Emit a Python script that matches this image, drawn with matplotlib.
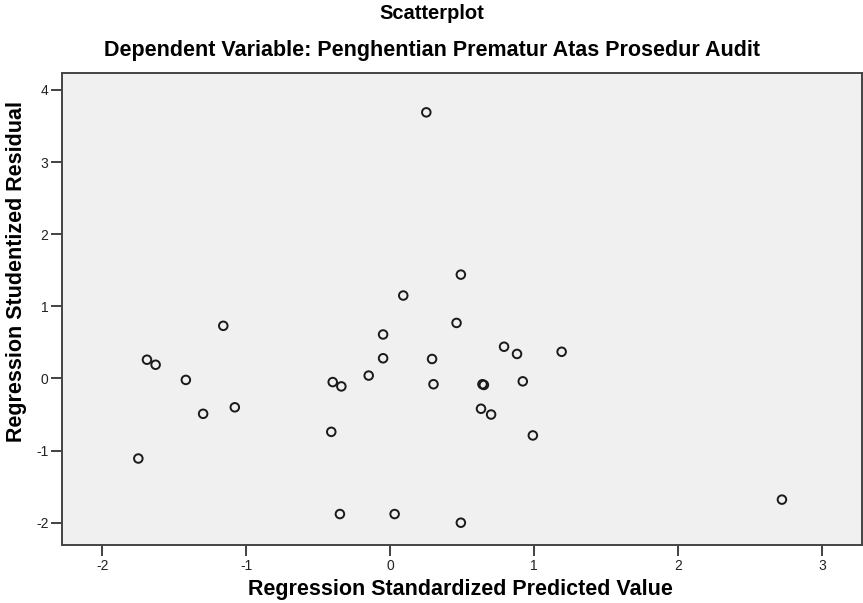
import numpy as np
import matplotlib
matplotlib.use("Agg")
import matplotlib.pyplot as plt

plt.rcParams['font.family'] = ['Liberation Sans', 'DejaVu Sans']
plt.rcParams['axes.unicode_minus'] = False

# regression standardized predicted value / studentized residual
predicted = [-1.69, -1.63, -1.16, -1.42, -1.30, -1.08, -1.75,
             -0.40, -0.34, -0.41, -0.05, -0.05, -0.15, 0.09,
             0.49, 0.46, 0.29, 0.30, 0.64, 0.65, 0.63, 0.70,
             0.79, 0.88, 0.92, 0.99, 1.19, 0.25,
             -0.35, 0.03, 0.49, 2.72]
residual = [0.26, 0.19, 0.73, -0.02, -0.49, -0.40, -1.11,
            -0.05, -0.11, -0.74, 0.61, 0.28, 0.04, 1.15,
            1.44, 0.77, 0.27, -0.08, -0.08, -0.09, -0.42, -0.50,
            0.44, 0.34, -0.04, -0.79, 0.37, 3.69,
            -1.88, -1.88, -2.00, -1.68]

xticks = [-2, -1, 0, 1, 2, 3]
yticks = [-2, -1, 0, 1, 2, 3, 4]

fig = plt.figure(figsize=(8.63, 6.03), dpi=100)
ax = fig.add_axes([0.0722, 0.0962, 0.9263, 0.7828])
ax.set_facecolor('#f0f0f0')

ax.scatter(predicted, residual, s=38, facecolors='none', edgecolors='#1a1a1a',
           linewidths=1.4, zorder=3)

ax.set_xlim(-2.278, 3.274)
ax.set_ylim(-2.309, 4.236)
ax.set_xticks(xticks)
ax.set_yticks(yticks)
ax.tick_params(direction='out', length=8, width=1.3, color='#333333',
               labelsize=10, labelcolor='#222222', pad=2)
for s in ax.spines.values():
    s.set_color('#444444')
    s.set_linewidth(1.4)

fig.text(0.5, 0.978, 'Scatterplot', ha='center', va='center',
         fontsize=14.5, fontweight='bold')
fig.text(0.5, 0.917, 'Dependent Variable: Penghentian Prematur Atas Prosedur Audit',
         ha='center', va='center', fontsize=15.5, fontweight='bold')
fig.text(0.533, 0.022, 'Regression Standardized Predicted Value', ha='center',
         va='center', fontsize=15.5, fontweight='bold')
fig.text(0.019, 0.549, 'Regression Studentized Residual', ha='center',
         va='center', rotation=90, fontsize=15.5, fontweight='bold')

plt.savefig('out.png', dpi=100)
